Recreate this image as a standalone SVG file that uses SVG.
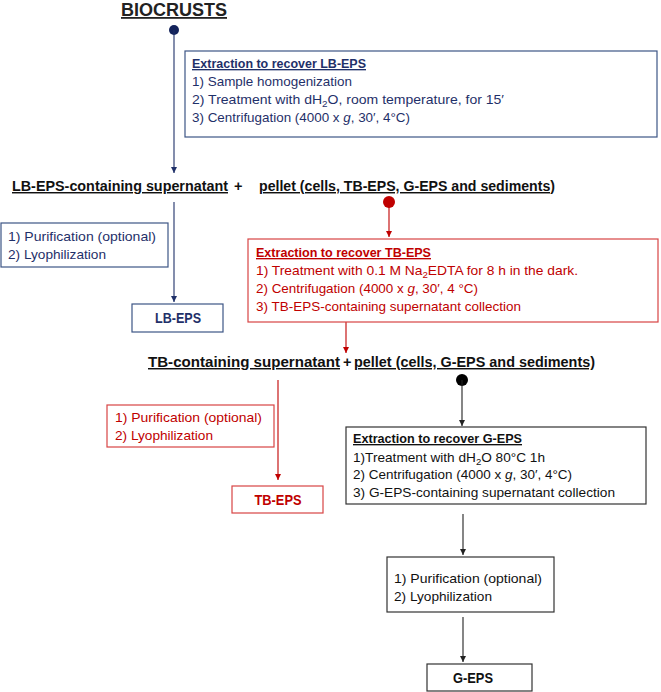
<svg xmlns="http://www.w3.org/2000/svg" width="661" height="692" viewBox="0 0 661 692">
<style>
text{font-family:"Liberation Sans",Arial,sans-serif;}
.b{font-size:13.5px;}
.t{font-size:13.5px;font-weight:bold;text-decoration:underline;}
.h{font-size:14.5px;font-weight:bold;fill:#111;text-decoration:underline;}
.p{font-size:14.5px;font-weight:bold;fill:#111;}
.lbl{font-size:15px;font-weight:bold;text-anchor:middle;}
.navy{fill:#1F3069;}
.red{fill:#C00000;}
.blk{fill:#111;}
.bn{fill:#fff;stroke:#3D5585;stroke-width:1.2;}
.br{fill:#fff;stroke:#D84444;stroke-width:1.2;}
.bk{fill:#fff;stroke:#333;stroke-width:1.2;}
.ln{fill:none;stroke:#1F3069;stroke-width:1.1;}
.lr{fill:none;stroke:#C00000;stroke-width:1.1;}
.lk{fill:none;stroke:#222;stroke-width:1.1;}
</style>
<defs>
<marker id="an" viewBox="0 0 6 6" refX="6" refY="3" markerWidth="6" markerHeight="6" markerUnits="userSpaceOnUse" orient="auto"><path d="M0,0 L6,3 L0,6 z" fill="#1F3069"/></marker>
<marker id="ar" viewBox="0 0 6 6" refX="6" refY="3" markerWidth="6" markerHeight="6" markerUnits="userSpaceOnUse" orient="auto"><path d="M0,0 L6,3 L0,6 z" fill="#C00000"/></marker>
<marker id="ak" viewBox="0 0 6 6" refX="6" refY="3" markerWidth="6" markerHeight="6" markerUnits="userSpaceOnUse" orient="auto"><path d="M0,0 L6,3 L0,6 z" fill="#222"/></marker>
</defs>

<g id="connectors">
<circle cx="174" cy="30" r="5" fill="#13235B"/>
<line class="ln" x1="174" y1="30" x2="174" y2="173" marker-end="url(#an)"/>
<line class="ln" x1="174" y1="202" x2="174" y2="302" marker-end="url(#an)"/>
<circle cx="389" cy="202" r="6" fill="#C00000"/>
<line class="lr" x1="389" y1="202" x2="389" y2="237" marker-end="url(#ar)"/>
<line class="lr" x1="346" y1="322" x2="346" y2="353" marker-end="url(#ar)"/>
<line class="lr" x1="278" y1="380" x2="278" y2="480" marker-end="url(#ar)"/>
<circle cx="462" cy="380" r="6" fill="#000"/>
<line class="lk" x1="462" y1="380" x2="462" y2="426" marker-end="url(#ak)"/>
<line class="lk" x1="463" y1="514" x2="463" y2="555" marker-end="url(#ak)"/>
<line class="lk" x1="463" y1="617" x2="463" y2="662" marker-end="url(#ak)"/>
</g>

<g id="biocrusts">
<text x="121" y="16" style="font-size:18px;font-weight:bold;fill:#222;text-decoration:underline;" textLength="106" lengthAdjust="spacingAndGlyphs">BIOCRUSTS</text>
</g>

<g id="lb-extraction">
<rect class="bn" x="185" y="51" width="472" height="86"/>
<text class="t navy" x="192" y="68" textLength="174" lengthAdjust="spacingAndGlyphs">Extraction  to recover LB-EPS</text>
<text class="b navy" x="192" y="86" textLength="160" lengthAdjust="spacingAndGlyphs">1) Sample homogenization</text>
<text class="b navy" x="192" y="104" textLength="312" lengthAdjust="spacingAndGlyphs">2) Treatment  with dH<tspan style="font-size:9.5px" dy="3">2</tspan><tspan dy="-3">O, room temperature,  for 15′</tspan></text>
<text class="b navy" x="192" y="122" textLength="218" lengthAdjust="spacingAndGlyphs">3) Centrifugation (4000 x <tspan font-style="italic">g</tspan>, 30′, 4°C)</text>
</g>

<g id="row1">
<text class="h" x="12" y="191" textLength="216" lengthAdjust="spacingAndGlyphs">LB-EPS-containing supernatant</text>
<text class="p" x="234" y="191">+</text>
<text class="h" x="259" y="191" textLength="296" lengthAdjust="spacingAndGlyphs">pellet (cells, TB-EPS, G-EPS and sediments)</text>
</g>

<g id="lb-purification">
<rect class="bn" x="1" y="223" width="167" height="44"/>
<text class="b navy" x="8" y="241" textLength="148" lengthAdjust="spacingAndGlyphs">1) Purification (optional)</text>
<text class="b navy" x="8" y="259" textLength="98" lengthAdjust="spacingAndGlyphs">2) Lyophilization</text>
</g>

<g id="lb-eps">
<rect class="bn" x="132" y="304" width="91" height="28"/>
<text class="lbl navy" x="178" y="323" textLength="46" lengthAdjust="spacingAndGlyphs">LB-EPS</text>
</g>

<g id="tb-extraction">
<rect class="br" x="248" y="239" width="410" height="83"/>
<text class="t red" x="256" y="257" textLength="175" lengthAdjust="spacingAndGlyphs">Extraction  to recover TB-EPS</text>
<text class="b red" x="256" y="275" textLength="322" lengthAdjust="spacingAndGlyphs">1) Treatment  with 0.1 M Na<tspan style="font-size:9.5px" dy="3">2</tspan><tspan dy="-3">EDTA  for 8 h in the dark.</tspan></text>
<text class="b red" x="256" y="293" textLength="222" lengthAdjust="spacingAndGlyphs">2) Centrifugation (4000 x <tspan font-style="italic">g</tspan>, 30′, 4 °C)</text>
<text class="b red" x="256" y="311" textLength="265" lengthAdjust="spacingAndGlyphs">3) TB-EPS-containing  supernatant  collection</text>
</g>

<g id="row2">
<text class="h" x="148" y="367" textLength="192" lengthAdjust="spacingAndGlyphs">TB-containing supernatant </text>
<text class="p" x="343" y="367">+</text>
<text class="h" x="354" y="367" textLength="241" lengthAdjust="spacingAndGlyphs">pellet (cells, G-EPS and sediments)</text>
</g>

<g id="tb-purification">
<rect class="br" x="107" y="405" width="167" height="42"/>
<text class="b red" x="115" y="422" textLength="147" lengthAdjust="spacingAndGlyphs">1) Purification (optional)</text>
<text class="b red" x="115" y="440" textLength="98" lengthAdjust="spacingAndGlyphs">2) Lyophilization</text>
</g>

<g id="tb-eps">
<rect class="br" x="232" y="486" width="91" height="27"/>
<text class="lbl red" x="278" y="505" textLength="47" lengthAdjust="spacingAndGlyphs">TB-EPS</text>
</g>

<g id="g-extraction">
<rect class="bk" x="346" y="427" width="300" height="77"/>
<text class="t blk" x="353" y="443" textLength="169" lengthAdjust="spacingAndGlyphs">Extraction  to recover G-EPS</text>
<text class="b blk" x="353" y="462" textLength="192" lengthAdjust="spacingAndGlyphs">1)Treatment  with dH<tspan style="font-size:9.5px" dy="3">2</tspan><tspan dy="-3">O 80°C 1h</tspan></text>
<text class="b blk" x="353" y="479" textLength="219" lengthAdjust="spacingAndGlyphs">2) Centrifugation (4000 x <tspan font-style="italic">g</tspan>, 30′, 4°C)</text>
<text class="b blk" x="353" y="497" textLength="262" lengthAdjust="spacingAndGlyphs">3)  G-EPS-containing supernatant collection</text>
</g>

<g id="g-purification">
<rect class="bk" x="387" y="557" width="167" height="55"/>
<text class="b blk" x="394" y="583" textLength="148" lengthAdjust="spacingAndGlyphs">1) Purification (optional)</text>
<text class="b blk" x="394" y="601" textLength="98" lengthAdjust="spacingAndGlyphs">2) Lyophilization</text>
</g>

<g id="g-eps">
<rect class="bk" x="427" y="664" width="105" height="27"/>
<text class="lbl blk" x="473" y="683" textLength="40" lengthAdjust="spacingAndGlyphs">G-EPS</text>
</g>
</svg>
